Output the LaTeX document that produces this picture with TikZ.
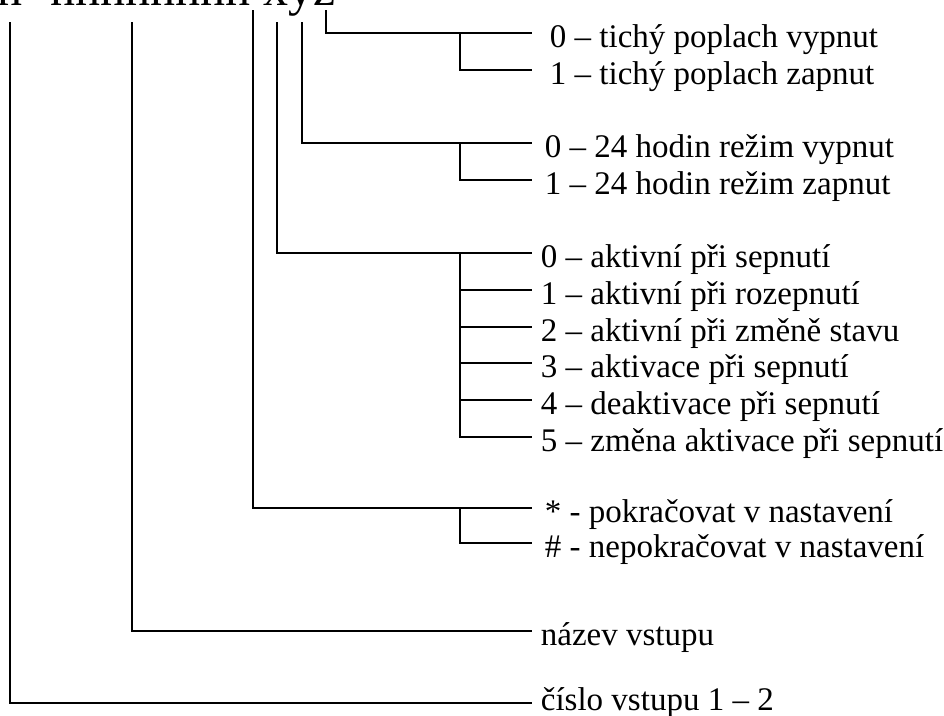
\documentclass[tikz,border=0pt]{standalone}
\usepackage{fontspec}
\setmainfont{Liberation Serif}
\usetikzlibrary{positioning}

\begin{document}
\begin{tikzpicture}[x=1pt,y=-1pt,line width=1.8pt,
    opt/.style={anchor=west,inner xsep=8pt,inner ysep=0pt,text height=28pt,text depth=0pt,
      font=\fontsize{33}{40}\selectfont},
    sub/.style={xshift=-72pt}]
      \useasboundingbox (0,0) rectangle (944,715);
      % the code line, mostly above the page
      \node[anchor=base west,inner sep=0pt,font=\fontsize{50}{60}\selectfont] (code) at (-3,5) {n\hspace{28pt}nnnnnnnn xyz};
      % free ends of the branches
      \coordinate (num) at (10,22);
      \coordinate (name) at (132,22);
      \coordinate (cont) at (253,10);
      \coordinate (mode) at (277,22);
      \coordinate (hours) at (302,22);
      \coordinate (silent) at (326,10);
      % options
      \node[opt,inner xsep=17pt] (si0) at (532,33) {0 – tichý poplach vypnut};
      \node[opt,inner xsep=17pt] (si1) at (532,70) {1 – tichý poplach zapnut};
      \node[opt,inner xsep=12pt] (ho0) at (532,143) {0 – 24 hodin režim vypnut};
      \node[opt,inner xsep=12pt] (ho1) at (532,180) {1 – 24 hodin režim zapnut};
      \node[opt] (mo0) at (532,253) {0 – aktivní při sepnutí};
      \node[opt] (mo1) at (532,290) {1 – aktivní při rozepnutí};
      \node[opt] (mo2) at (532,327) {2 – aktivní při změně stavu};
      \node[opt] (mo3) at (532,363) {3 – aktivace při sepnutí};
      \node[opt] (mo4) at (532,400) {4 – deaktivace při sepnutí};
      \node[opt] (mo5) at (532,437) {5 – změna aktivace při sepnutí};
      \node[opt,inner xsep=12pt] (co0) at (532,508) {* - pokračovat v nastavení};
      \node[opt,inner xsep=12pt] (co1) at (532,543) {\# - nepokračovat v nastavení};
      \node[opt] (na) at (532,631) {název vstupu};
      \node[opt,text height=14pt] (nu) at (532,703) {číslo vstupu 1 – 2};
      % branches
      \draw (silent) |- (si0.west);
      \draw ([sub]si0.west) |- (si1.west);
      \draw (hours) |- (ho0.west);
      \draw ([sub]ho0.west) |- (ho1.west);
      \draw (mode) |- (mo0.west);
      \draw ([sub]mo0.west) |- (mo5.west);
      \foreach \i in {1,...,4}
        \draw ([sub]mo\i.west) -- (mo\i.west);
      \draw (cont) |- (co0.west);
      \draw ([sub]co0.west) |- (co1.west);
      \draw (name) |- (na.west);
      \draw (num) |- (nu.west);
    \end{tikzpicture}
\end{document}
